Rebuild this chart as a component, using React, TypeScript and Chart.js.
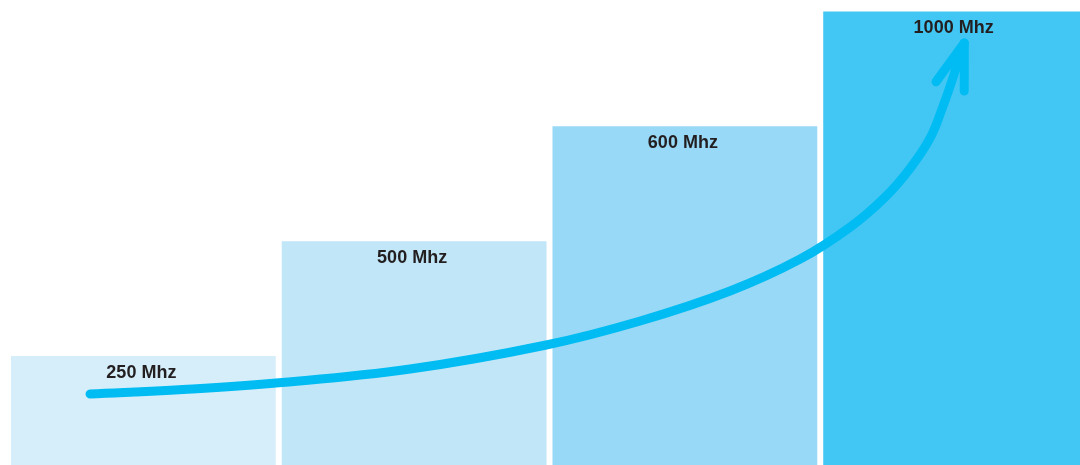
import React, { useEffect, useRef } from "react";
import { Chart, registerables } from "chart.js";

Chart.register(...registerables);

// Data
const categories = ["250", "500", "600", "1000"];
const barValues = [1, 2, 3, 4];
const barLabels = ["250 Mhz", "500 Mhz", "600 Mhz", "1000 Mhz"];
const barColors = ["#d6eefa", "#c1e6f8", "#97d9f6", "#42c7f4"];

// Growth arrow path (x in category index units, y in bar value units)
const curveX = [-0.197, 0.147, 0.49, 0.985, 1.488, 1.835, 2.167, 2.426, 2.611, 2.74, 2.833, 2.906, 2.951, 2.991, 3.032];
const curveY = [0.67, 0.709, 0.766, 0.888, 1.097, 1.306, 1.567, 1.845, 2.124, 2.385, 2.638, 2.899, 3.16, 3.43, 3.726];

const ARROW_COLOR = "#00bcf2";

const labelPlugin = {
  id: "barLabels",
  afterDatasetsDraw(chart: any) {
    const ctx = chart.ctx;
    const meta = chart.getDatasetMeta(0);
    ctx.save();
    ctx.font = "bold 18px 'Liberation Sans', Arial, sans-serif";
    ctx.fillStyle = "#231f20";
    ctx.textAlign = "center";
    ctx.textBaseline = "alphabetic";
    meta.data.forEach((bar: any, i: number) => {
      ctx.fillText(barLabels[i], bar.x - 2, bar.y + 22);
    });
    ctx.restore();
  },
};

const arrowPlugin = {
  id: "arrowHead",
  afterDatasetDraw(chart: any, args: any) {
    if (args.index !== 1) return;
    const meta = chart.getDatasetMeta(1);
    const pts = meta.data;
    if (pts.length < 2) return;
    const tip = pts[pts.length - 1];
    const prev = pts[pts.length - 2];
    const ang = Math.atan2(tip.y - prev.y, tip.x - prev.x);
    const back = ang + Math.PI;
    const spread = (18 * Math.PI) / 180;
    const len = 48;
    const ctx = chart.ctx;
    ctx.save();
    ctx.strokeStyle = ARROW_COLOR;
    ctx.lineWidth = 9;
    ctx.lineCap = "round";
    ctx.lineJoin = "round";
    ctx.beginPath();
    ctx.moveTo(tip.x + len * Math.cos(back + spread), tip.y + len * Math.sin(back + spread));
    ctx.lineTo(tip.x, tip.y);
    ctx.lineTo(tip.x + len * Math.cos(back - spread), tip.y + len * Math.sin(back - spread));
    ctx.stroke();
    ctx.restore();
  },
};

export default function App() {
  const canvasRef = useRef<HTMLCanvasElement | null>(null);

  useEffect(() => {
    if (!canvasRef.current) return;
    const chart = new Chart(canvasRef.current, {
      type: "bar",
      data: {
        labels: categories,
        datasets: [
          {
            type: "bar",
            data: barValues,
            backgroundColor: barColors,
            borderWidth: 0,
            barPercentage: 0.978,
            categoryPercentage: 1,
            grouped: false,
            xAxisID: "x",
            yAxisID: "y",
            order: 2,
          } as any,
          {
            type: "line",
            data: curveX.map((x, i) => ({ x, y: curveY[i] })),
            borderColor: ARROW_COLOR,
            borderWidth: 9,
            borderCapStyle: "round",
            borderJoinStyle: "round",
            pointRadius: 0,
            tension: 0.4,
            fill: false,
            xAxisID: "x2",
            yAxisID: "y",
            order: 1,
          } as any,
        ],
      },
      options: {
        responsive: false,
        animation: false,
        layout: { padding: { left: 8, right: 4, top: 0, bottom: 4 } },
        plugins: { legend: { display: false }, tooltip: { enabled: false } },
        scales: {
          x: { display: false, type: "category", offset: true },
          x2: { display: false, type: "linear", min: -0.5, max: 3.5, offset: false },
          y: { display: false, min: 0, max: 4.1 },
        },
      },
      plugins: [arrowPlugin, labelPlugin],
    });
    return () => chart.destroy();
  }, []);

  return (
    <div
      style={{
        position: "fixed",
        left: 0,
        top: 0,
        width: 1080,
        height: 465,
        overflow: "hidden",
        background: "#ffffff",
      }}
    >
      <canvas ref={canvasRef} width={1095} height={475} style={{ display: "block" }} />
    </div>
  );
}
